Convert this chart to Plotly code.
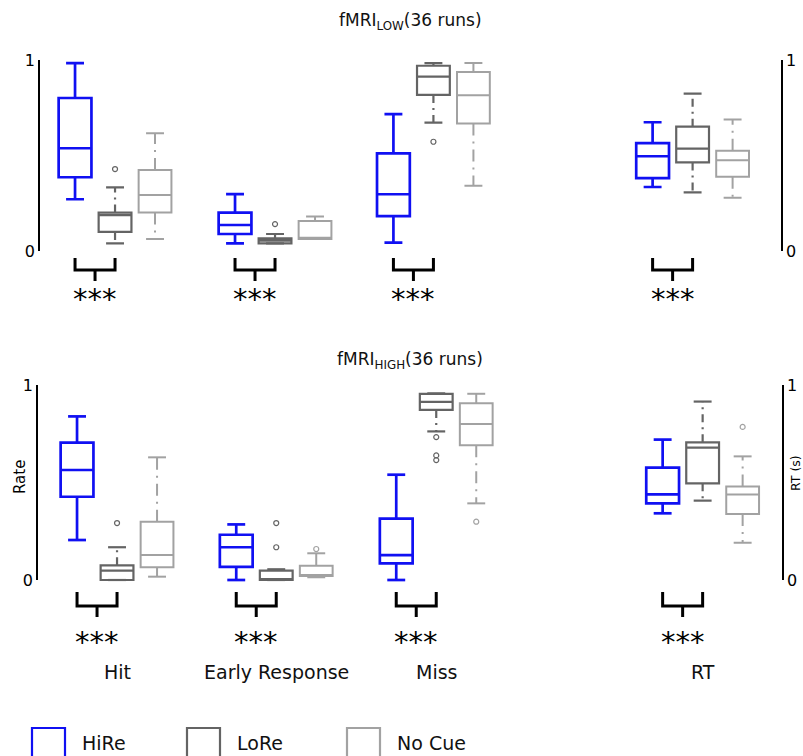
import plotly.graph_objects as go

W, H = 803, 756

categories = ["Hit", "Early Response", "Miss", "RT"]
series = ["HiRe", "LoRe", "No Cue"]
colors = {"HiRe": "#1010f2", "LoRe": "#646464", "No Cue": "#a2a2a2"}
widths = {"HiRe": 2.7, "LoRe": 2.2, "No Cue": 2.0}
whisker_dash = {"HiRe": "solid", "LoRe": "8px,5px,2px,5px", "No Cue": "12px,6px,2px,6px"}

# ---- fMRI LOW (36 runs): values per category [Hit, Early Response, Miss, RT]
low_lo = {"HiRe": [0.271, 0.040, 0.044, 0.335],
          "LoRe": [0.040, 0.040, 0.672, 0.307],
          "No Cue": [0.063, 0.063, 0.342, 0.279]}
low_q1 = {"HiRe": [0.386, 0.089, 0.183, 0.382],
          "LoRe": [0.100, 0.040, 0.817, 0.464],
          "No Cue": [0.201, 0.063, 0.668, 0.389]}
low_med = {"HiRe": [0.538, 0.136, 0.297, 0.496],
           "LoRe": [0.188, 0.054, 0.913, 0.536],
           "No Cue": [0.293, 0.070, 0.815, 0.475]}
low_q3 = {"HiRe": [0.801, 0.201, 0.511, 0.565],
          "LoRe": [0.201, 0.066, 0.970, 0.651],
          "No Cue": [0.424, 0.157, 0.937, 0.525]}
low_hi = {"HiRe": [0.984, 0.298, 0.717, 0.674],
          "LoRe": [0.333, 0.089, 0.984, 0.824],
          "No Cue": [0.616, 0.180, 0.984, 0.688]}
low_out = {"HiRe": [[], [], [], []],
           "LoRe": [[0.429], [0.141], [0.572], []],
           "No Cue": [[], [], [], []]}

# ---- fMRI HIGH (36 runs)
high_lo = {"HiRe": [0.205, 0.000, 0.000, 0.342],
           "LoRe": [0.000, 0.000, 0.762, 0.407],
           "No Cue": [0.017, 0.014, 0.393, 0.191]}
high_q1 = {"HiRe": [0.427, 0.067, 0.085, 0.393],
           "LoRe": [0.000, 0.000, 0.872, 0.496],
           "No Cue": [0.065, 0.021, 0.691, 0.338]}
high_med = {"HiRe": [0.564, 0.168, 0.128, 0.439],
            "LoRe": [0.048, 0.003, 0.913, 0.679],
            "No Cue": [0.128, 0.021, 0.800, 0.439]}
high_q3 = {"HiRe": [0.704, 0.232, 0.315, 0.576],
           "LoRe": [0.075, 0.048, 0.954, 0.706],
           "No Cue": [0.299, 0.073, 0.906, 0.480]}
high_hi = {"HiRe": [0.839, 0.285, 0.540, 0.720],
           "LoRe": [0.168, 0.055, 0.957, 0.915],
           "No Cue": [0.629, 0.137, 0.955, 0.634]}
high_out = {"HiRe": [[], [], [], []],
            "LoRe": [[0.292], [0.292, 0.168], [0.733, 0.639, 0.615], []],
            "No Cue": [[], [0.159], [0.299], [0.785]]}

significance = ["***", "***", "***", "***"]
y_tick_vals = [0, 1]
y_tick_text = ["0", "1"]
y_minor_vals = [0.5]


def py(px):
    return 1 - px / H


def pxx(px):
    return px / W


panels = [
    dict(title="fMRI<sub>LOW</sub>(36 runs)", lo=low_lo, q1=low_q1, med=low_med, q3=low_q3, hi=low_hi, out=low_out,
         groups=[1.0, 2.0, 2.99, 4.61], xr=[0.531, 5.1625], xd=[pxx(40), pxx(781)],
         y0=251, y1=60, xa="x", ya_l="y", ya_r="y2", ya_d="y3",
         br_top=258, br_mid=270, br_bot=281, star_y=299, title_y=22, cat_y=None),
    dict(title="fMRI<sub>HIGH</sub>(36 runs)", lo=high_lo, q1=high_q1, med=high_med, q3=high_q3, hi=high_hi, out=high_out,
         groups=[1.0, 1.995, 2.995, 4.66], xr=[0.506, 5.156], xd=[pxx(38), pxx(782)],
         y0=580, y1=385, xa="x2", ya_l="y4", ya_r="y5", ya_d="y6",
         br_top=592, br_mid=606, br_bot=617, star_y=642, title_y=360, cat_y=672),
]

offsets = {"HiRe": -0.25, "LoRe": 0.0, "No Cue": 0.25}
box_w = 0.205
cap_hw = 0.056

fig = go.Figure()
shapes = []
annotations = []
layout_axes = {}
font_family = "DejaVu Sans"

for p in panels:
    xa, yl, yr, yd = p["xa"], p["ya_l"], p["ya_r"], p["ya_d"]
    # empty traces so that the display axes are drawn
    for ya in (yl, yr):
        fig.add_trace(go.Scatter(x=[None], y=[None], xaxis=xa, yaxis=ya, mode="markers",
                                 showlegend=False, hoverinfo="skip"))
    for s in series:
        col = colors[s]
        lw = widths[s]
        for gi, g in enumerate(p["groups"]):
            pos = g + offsets[s]
            lo, q1, md, q3, hi = (p["lo"][s][gi], p["q1"][s][gi], p["med"][s][gi],
                                  p["q3"][s][gi], p["hi"][s][gi])
            # whiskers
            fig.add_trace(go.Scatter(x=[pos, pos, None, pos, pos], y=[q3, hi, None, q1, lo],
                                     mode="lines", line=dict(color=col, width=lw, dash=whisker_dash[s]),
                                     xaxis=xa, yaxis=yd, showlegend=False, hoverinfo="skip"))
            # caps
            fig.add_trace(go.Scatter(x=[pos - cap_hw, pos + cap_hw, None, pos - cap_hw, pos + cap_hw],
                                     y=[hi, hi, None, lo, lo], mode="lines",
                                     line=dict(color=col, width=lw),
                                     xaxis=xa, yaxis=yd, showlegend=False, hoverinfo="skip"))
            # box
            fig.add_trace(go.Box(x=[pos], q1=[q1], median=[md], q3=[q3], lowerfence=[q1], upperfence=[q3],
                                 width=box_w, whiskerwidth=0, boxpoints=False,
                                 line=dict(color=col, width=lw), fillcolor="rgba(255,255,255,0)",
                                 xaxis=xa, yaxis=yd, showlegend=False, hoverinfo="skip", name=s))
            outs = p["out"][s][gi]
            if outs:
                fig.add_trace(go.Scatter(x=[pos] * len(outs), y=outs, mode="markers",
                                         marker=dict(symbol="circle-open", size=5, color=col,
                                                     line=dict(width=1.2, color=col)),
                                         xaxis=xa, yaxis=yd, showlegend=False, hoverinfo="skip"))

    # brackets and significance
    for gi, g in enumerate(p["groups"]):
        xl = g + offsets["HiRe"]
        xr_ = g + offsets["LoRe"]
        xm = (xl + xr_) / 2
        shapes.append(dict(type="path", xref=xa, yref="paper",
                           path=f"M {xl},{py(p['br_top'])} L {xl},{py(p['br_mid'])} L {xr_},{py(p['br_mid'])} L {xr_},{py(p['br_top'])}",
                           line=dict(color="black", width=3)))
        shapes.append(dict(type="line", xref=xa, yref="paper", x0=xm, x1=xm,
                           y0=py(p["br_mid"]), y1=py(p["br_bot"]), line=dict(color="black", width=3)))
        annotations.append(dict(x=xm, y=py(p["star_y"]), xref=xa, yref="paper", text=significance[gi],
                                showarrow=False, font=dict(size=29, family=font_family, color="black"),
                                xanchor="center", yanchor="middle"))
        if p["cat_y"] is not None:
            annotations.append(dict(x=g, y=py(p["cat_y"]), xref=xa, yref="paper", text=categories[gi],
                                    showarrow=False, font=dict(size=19, family=font_family, color="#111"),
                                    xanchor="center", yanchor="middle"))

    annotations.append(dict(x=pxx(410), y=py(p["title_y"]), xref="paper", yref="paper", text=p["title"],
                            showarrow=False, font=dict(size=17, family=font_family, color="#111"),
                            xanchor="center", yanchor="middle"))

    dom = [py(p["y0"]), py(p["y1"])]
    ext = 0.02 * (p["y0"] - p["y1"]) / H
    axis_common = dict(range=[0, 1], showline=True, linecolor="black", linewidth=1.5, ticks="inside",
                       ticklen=4, tickwidth=1.5, tickcolor="black", tickvals=y_tick_vals, ticktext=y_tick_text,
                       minor=dict(tickvals=y_minor_vals, ticks="inside", ticklen=3, tickwidth=1.2,
                                  tickcolor="black", showgrid=False),
                       showgrid=False, zeroline=False, fixedrange=True, automargin=False,
                       tickfont=dict(size=16, family=font_family, color="black"))
    xkey = "xaxis" if xa == "x" else "xaxis" + xa[1:]
    layout_axes[xkey] = dict(domain=p["xd"], range=p["xr"], visible=False, fixedrange=True,
                             anchor=yl, automargin=False)
    kl = "yaxis" if yl == "y" else "yaxis" + yl[1:]
    layout_axes[kl] = dict(domain=dom, anchor=xa, side="left", **axis_common)
    layout_axes["yaxis" + yr[1:]] = dict(overlaying=yl, anchor=xa, side="right", **axis_common)
    layout_axes["yaxis" + yd[1:]] = dict(domain=[dom[0] - ext, dom[1] + ext], range=[-0.02, 1.02],
                                         anchor=xa, visible=False, fixedrange=True, automargin=False)

# axis titles
annotations.append(dict(x=pxx(20), y=py(477), xref="paper", yref="paper", text="Rate", textangle=-90,
                        showarrow=False, font=dict(size=15, family=font_family, color="black"),
                        xanchor="center", yanchor="middle"))
annotations.append(dict(x=pxx(795), y=py(473), xref="paper", yref="paper", text="RT (s)", textangle=-90,
                        showarrow=False, font=dict(size=12.5, family=font_family, color="black"),
                        xanchor="center", yanchor="middle"))

# legend
legend_x = [32, 187, 347]
for s, lx in zip(series, legend_x):
    shapes.append(dict(type="rect", xref="paper", yref="paper", x0=pxx(lx), x1=pxx(lx + 33),
                       y0=py(762), y1=py(728), line=dict(color=colors[s], width=2.2),
                       fillcolor="rgba(0,0,0,0)"))
    annotations.append(dict(x=pxx(lx + 48), y=py(743), xref="paper", yref="paper", text=s,
                            showarrow=False, font=dict(size=19, family=font_family, color="#111"),
                            xanchor="left", yanchor="middle"))

fig.update_layout(width=W, height=H, margin=dict(l=0, r=0, t=0, b=0, pad=0, autoexpand=False),
                  autosize=False, paper_bgcolor="white", plot_bgcolor="white", showlegend=False,
                  boxmode="overlay", shapes=shapes, annotations=annotations, **layout_axes)

fig.write_html("out.html", config={"displayModeBar": False},
               post_script="document.body.style.margin='0';document.body.style.overflow='hidden';")
